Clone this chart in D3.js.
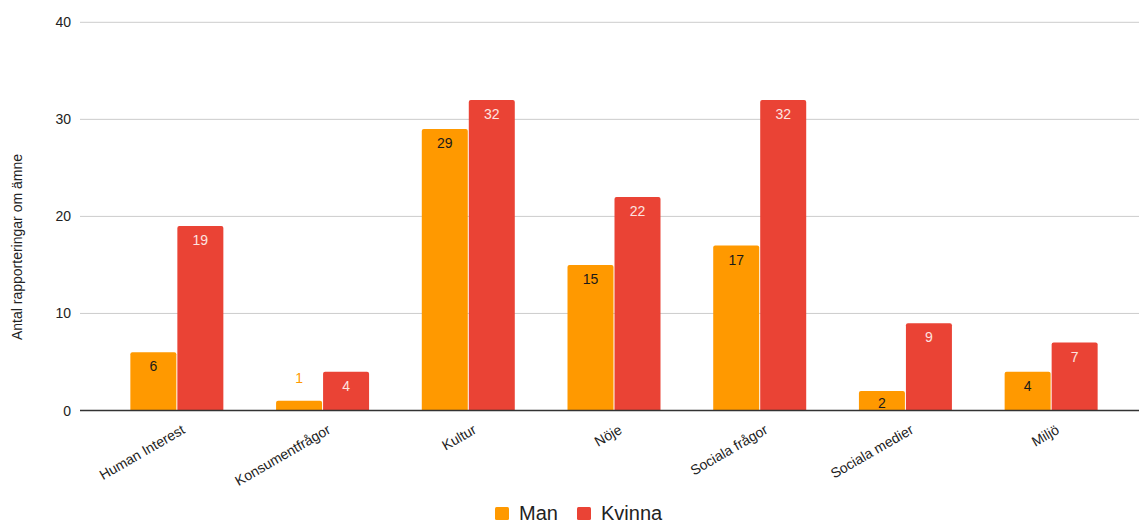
<!DOCTYPE html>
<html lang="sv">
<head>
<meta charset="UTF-8">
<title>Antal rapporteringar om ämne</title>
<script src="https://d3js.org/d3.v7.min.js"></script>
<style>
  body { margin: 0; background: #fff; }
  svg text { font-family: Arial, "Liberation Sans", sans-serif; }
</style>
</head>
<body>
<svg id="chart" width="1139" height="523"></svg>
<script>
// data
const categories = ["Human Interest", "Konsumentfrågor", "Kultur", "Nöje", "Sociala frågor", "Sociala medier", "Miljö"];
const seriesNames = ["Man", "Kvinna"];
const manValues = [6, 1, 29, 15, 17, 2, 4];
const kvinnaValues = [19, 4, 32, 22, 32, 9, 7];
const yTicks = [0, 10, 20, 30, 40];

const colors = { Man: "#ff9900", Kvinna: "#ea4335" };
const labelColors = { Man: "#1a1a1a", Kvinna: "#fde3e0" };

const svg = d3.select("#chart");
const W = 1139;

const y = d3.scaleLinear().domain([0, 40]).range([410.5, 22.3]);
const x = d3.scaleBand().domain(categories).range([104, 1124]).paddingInner(0).paddingOuter(0);
const barW = 46, gap = 1;

// gridlines
svg.append("g")
  .selectAll("line")
  .data(yTicks.filter(d => d > 0))
  .join("line")
  .attr("x1", 80).attr("x2", W)
  .attr("y1", d => y(d)).attr("y2", d => y(d))
  .attr("stroke", "#cccccc").attr("stroke-width", 1);

// y tick labels
svg.append("g")
  .selectAll("text")
  .data(yTicks)
  .join("text")
  .attr("x", 71)
  .attr("y", d => y(d) + 5)
  .attr("text-anchor", "end")
  .attr("font-size", 14)
  .attr("fill", "#222")
  .text(d => d);

// y title
svg.append("text")
  .attr("transform", "translate(22,247) rotate(-90)")
  .attr("text-anchor", "middle")
  .attr("font-size", 14)
  .attr("fill", "#222")
  .text("Antal rapporteringar om ämne");

// bars
function topRounded(x0, y0, w, h, r) {
  r = Math.min(r, h, w / 2);
  return `M${x0},${y0 + h} V${y0 + r} Q${x0},${y0} ${x0 + r},${y0} H${x0 + w - r} Q${x0 + w},${y0} ${x0 + w},${y0 + r} V${y0 + h} Z`;
}

const rows = [];
categories.forEach((c, i) => {
  rows.push({ cat: c, s: "Man", v: manValues[i], k: 0 });
  rows.push({ cat: c, s: "Kvinna", v: kvinnaValues[i], k: 1 });
});

const barX = d => x(d.cat) + x.bandwidth() / 2 + (d.k === 0 ? -barW - gap / 2 : gap / 2);
const outside = d => (y(0) - y(d.v)) < 15;

svg.append("g")
  .selectAll("path")
  .data(rows)
  .join("path")
  .attr("d", d => topRounded(barX(d), y(d.v), barW, y(0) - y(d.v), 2))
  .attr("fill", d => colors[d.s]);

// value labels
svg.append("g")
  .selectAll("text")
  .data(rows)
  .join("text")
  .attr("x", d => barX(d) + barW / 2)
  .attr("y", d => outside(d) ? y(d.v) - 18 : Math.min(y(d.v) + 19, y(0) - 3))
  .attr("text-anchor", "middle")
  .attr("font-size", 14)
  .attr("fill", d => outside(d) ? colors[d.s] : labelColors[d.s])
  .text(d => d.v);

// baseline
svg.append("line")
  .attr("x1", 80).attr("x2", W)
  .attr("y1", y(0)).attr("y2", y(0))
  .attr("stroke", "#333").attr("stroke-width", 1.3);

// x labels
svg.append("g")
  .selectAll("text")
  .data(categories)
  .join("text")
  .attr("transform", c => `translate(${x(c) + x.bandwidth() / 2 + 9},${y(0) + 22}) rotate(-30)`)
  .attr("text-anchor", "end")
  .attr("font-size", 14)
  .attr("fill", "#222")
  .text(c => c);

// legend
const legend = svg.append("g").attr("transform", "translate(495,520)");
const lx = [0, 82];
seriesNames.forEach((s, i) => {
  legend.append("rect")
    .attr("x", lx[i]).attr("y", -13)
    .attr("width", 14).attr("height", 13).attr("rx", 1.5)
    .attr("fill", colors[s]);
  legend.append("text")
    .attr("x", lx[i] + 24).attr("y", 0)
    .attr("font-size", 20)
    .attr("fill", "#222")
    .text(s);
});
</script>
</body>
</html>
